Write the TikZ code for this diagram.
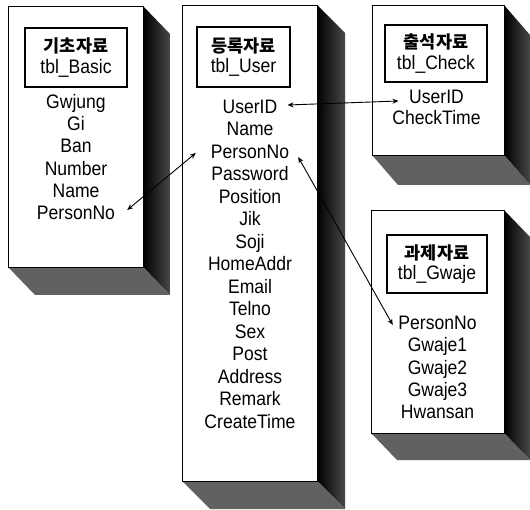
\documentclass[tikz,border=0pt]{standalone}
\usepackage{fontspec}
\setmainfont{Liberation Sans}[FakeStretch=0.9]
\newfontfamily\kr{Noto Sans CJK KR}
\usetikzlibrary{arrows.meta,calc}
\begin{document}
\begin{tikzpicture}[x=1pt,y=-1pt,
  front/.style={draw=black,line width=0.8pt,fill=white},
  rface/.style={left color=black,right color=black!72},
  bface/.style={fill=black!62},
  titlebox/.style={draw=black,line width=1.3pt,fill=white,align=center,inner sep=0pt,font=\fontsize{19.5}{20.5}\selectfont},
  field/.style={font=\fontsize{19.5}{20}\selectfont,inner sep=0pt,text height=14pt,text depth=4pt},
  link/.style={line width=0.9pt,{Stealth[length=6pt,width=5pt]}-{Stealth[length=6pt,width=5pt]}}]
\useasboundingbox (0,0) rectangle (530,510);
\clip (0,0) rectangle (530,510);
\fill[white] (0,0) rectangle (530,510);
% box 1 : tbl_Basic
\shade[rface] (143,6) -- (170,34) -- (170,295) -- (143,267) -- cycle;
\fill[bface] (8,267) -- (143,267) -- (170,295) -- (35,295) -- cycle;
\draw[front] (8,6) rectangle (143,267);
% box 2 : tbl_User
\shade[rface] (317,5) -- (345,33) -- (345,509) -- (317,481) -- cycle;
\fill[bface] (182,481) -- (317,481) -- (345,509) -- (210,509) -- cycle;
\draw[front] (182,5) rectangle (317,481);
% box 3 : tbl_Check
\shade[rface] (504,5) -- (530,35) -- (530,185) -- (504,155) -- cycle;
\fill[bface] (372,155) -- (504,155) -- (530,185) -- (398,185) -- cycle;
\draw[front] (372,5) rectangle (504,155);
% box 4 : tbl_Gwaje
\shade[rface] (504,210) -- (530,237) -- (530,460) -- (504,433) -- cycle;
\fill[bface] (371,433) -- (504,433) -- (530,460) -- (397,460) -- cycle;
\draw[front] (371,210) rectangle (504,433);
% titles
\node[titlebox,minimum width=102pt,minimum height=59pt] (t1) at (76,57.5) {{\kr\bfseries\fontsize{17.5}{20.5}\selectfont 기초자료}\\tbl\_Basic};
\node[titlebox,minimum width=93pt,minimum height=60pt] (t2) at (243.5,57) {{\kr\bfseries\fontsize{17.5}{20.5}\selectfont 등록자료}\\tbl\_User};
\node[titlebox,minimum width=102pt,minimum height=57pt] (t3) at (436,53.5) {{\kr\bfseries\fontsize{17.5}{20.5}\selectfont 출석자료}\\tbl\_Check};
\node[titlebox,minimum width=100pt,minimum height=58pt] (t4) at (437,264) {{\kr\bfseries\fontsize{17.5}{20.5}\selectfont 과제자료}\\tbl\_Gwaje};
% fields box 1
\node[field] (b1) at (76,103.5) {Gwjung};
\node[field] (b2) at (76,125.7) {Gi};
\node[field] (b3) at (76,147.9) {Ban};
\node[field] (b4) at (76,170.1) {Number};
\node[field] (b5) at (76,192.3) {Name};
\node[field] (b6) at (76,214.5) {PersonNo};
% fields box 2
\node[field] (u1) at (250,108.5) {UserID};
\node[field] (u2) at (250,131) {Name};
\node[field] (u3) at (250,153.5) {PersonNo};
\node[field] (u4) at (250,176) {Password};
\node[field] (u5) at (250,198.5) {Position};
\node[field] (u6) at (250,221) {Jik};
\node[field] (u7) at (250,243.5) {Soji};
\node[field] (u8) at (250,266) {HomeAddr};
\node[field] (u9) at (250,288.5) {Email};
\node[field] (u10) at (250,311) {Telno};
\node[field] (u11) at (250,333.5) {Sex};
\node[field] (u12) at (250,356) {Post};
\node[field] (u13) at (250,378.5) {Address};
\node[field] (u14) at (250,401) {Remark};
\node[field] (u15) at (250,423.5) {CreateTime};
% fields box 3
\node[field] (c1) at (436.5,98.5) {UserID};
\node[field] (c2) at (436.5,120) {CheckTime};
% fields box 4
\node[field] (g1) at (437.5,324.5) {PersonNo};
\node[field] (g2) at (437.5,346.75) {Gwaje1};
\node[field] (g3) at (437.5,369) {Gwaje2};
\node[field] (g4) at (437.5,391.25) {Gwaje3};
\node[field] (g5) at (437.5,413.5) {Hwansan};
% links
\draw[link] ($(u1.east)+(10,-3.5)$) -- ($(c1.west)+(-10.5,2.5)$);
\draw[link] ($(b6.east)+(12,-4.5)$) -- ($(u3.west)+(-15,-0.5)$);
\draw[link] ($(u3.east)+(9,3.5)$) -- ($(g1.west)+(-5.5,0.5)$);
\end{tikzpicture}
\end{document}
